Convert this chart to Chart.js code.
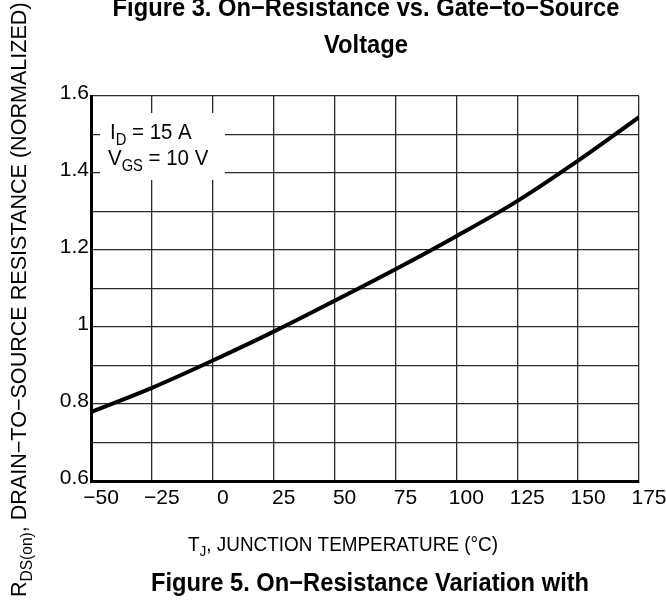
<!DOCTYPE html>
<html>
<head>
<meta charset="utf-8">
<script src="https://cdn.jsdelivr.net/npm/chart.js@4.4.1/dist/chart.umd.min.js"></script>
<style>
  html, body { margin: 0; padding: 0; background: #fff; }
  #wrap { width: 666px; height: 601px; position: relative; }
</style>
</head>
<body>
<div id="wrap"><canvas id="c" width="666" height="601"></canvas></div>
<script>
// ---- data ----
const temperatures = [-50, -25, 0, 25, 50, 75, 100, 125, 150, 175];
const resistanceNorm = [0.779, 0.842, 0.913, 0.988, 1.068, 1.150, 1.236, 1.327, 1.432, 1.545];
const xTickValues = [-50, -25, 0, 25, 50, 75, 100, 125, 150, 175];
const xTickLabels = ['\u221250', '\u221225', '0', '25', '50', '75', '100', '125', '150', '175'];
const yTickValues = [0.6, 0.8, 1.0, 1.2, 1.4, 1.6];
const yTickLabels = ['0.6', '0.8', '1', '1.2', '1.4', '1.6'];
const topTitle = ['Figure 3. On\u2212Resistance vs. Gate\u2212to\u2212Source', 'Voltage'];
const bottomTitle = 'Figure 5. On\u2212Resistance Variation with';
const xTitleParts = [['T', false], ['J', true], [', JUNCTION TEMPERATURE (\u00B0C)', false]];
const yTitleParts = [['R', false], ['DS(on)', true], [', DRAIN\u2212TO\u2212SOURCE RESISTANCE (NORMALIZED)', false]];
const noteLine1 = [['I', false], ['D', true], [' = 15 A', false]];
const noteLine2 = [['V', false], ['GS', true], [' = 10 V', false]];

const FONT = '"Liberation Sans", Arial, Helvetica, sans-serif';

function richWidth(ctx, parts, size) {
  let w = 0;
  for (const [t, sub] of parts) {
    ctx.font = (sub ? size * 0.72 : size) + 'px ' + FONT;
    w += ctx.measureText(t).width;
  }
  return w;
}
function drawRich(ctx, parts, x, y, size, align, sx) {
  sx = sx || 1;
  ctx.save();
  ctx.translate(x, y);
  ctx.scale(sx, 1);
  const total = richWidth(ctx, parts, size);
  let cx = align === 'center' ? -total / 2 : 0;
  ctx.textAlign = 'left';
  ctx.textBaseline = 'alphabetic';
  for (const [t, sub] of parts) {
    ctx.font = (sub ? size * 0.72 : size) + 'px ' + FONT;
    ctx.fillText(t, cx, sub ? size * 0.25 : 0);
    cx += ctx.measureText(t).width;
  }
  ctx.restore();
}
function drawBold(ctx, text, x, y, size, sx) {
  ctx.save();
  ctx.translate(x, y);
  ctx.scale(sx, 1);
  ctx.font = 'bold ' + size + 'px ' + FONT;
  ctx.textAlign = 'center';
  ctx.textBaseline = 'alphabetic';
  ctx.fillText(text, 0, 0);
  ctx.restore();
}

const textPlugin = {
  id: 'texts',
  beforeDatasetsDraw(chart) {
    const ctx = chart.ctx;
    ctx.save();
    ctx.fillStyle = '#fff';
    ctx.fillRect(100, 113, 125, 67);
    ctx.fillStyle = '#000';
    drawRich(ctx, noteLine1, 110, 139, 22, 'left', 0.93);
    drawRich(ctx, noteLine2, 108, 165, 22, 'left', 0.93);
    ctx.restore();
  },
  afterDraw(chart) {
    const ctx = chart.ctx;
    ctx.save();
    ctx.fillStyle = '#000';
    drawBold(ctx, topTitle[0], 366, 16, 25.5, 0.93);
    drawBold(ctx, topTitle[1], 366, 53, 25.5, 0.93);
    drawBold(ctx, bottomTitle, 370, 591, 25.5, 0.93);
    drawRich(ctx, xTitleParts, 343, 551, 21, 'center', 0.9);
    ctx.translate(26, 597);
    ctx.rotate(-Math.PI / 2);
    drawRich(ctx, yTitleParts, 0, 0, 22, 'left', 0.98);
    ctx.restore();
  }
};

const pts = temperatures.map((t, i) => ({ x: t, y: resistanceNorm[i] }));

new Chart(document.getElementById('c'), {
  type: 'line',
  data: {
    datasets: [{
      data: pts,
      borderColor: '#000',
      borderWidth: 4,
      pointRadius: 0,
      tension: 0.35,
      fill: false
    }]
  },
  options: {
    responsive: false,
    animation: false,
    events: [],
    layout: { padding: { top: 96, right: 27, left: 0, bottom: 0 } },
    plugins: { legend: { display: false }, tooltip: { enabled: false }, title: { display: false } },
    scales: {
      x: {
        type: 'linear',
        min: -50, max: 175,
        afterFit(s) { s.height = 120; },
        afterBuildTicks(s) { s.ticks = xTickValues.map(v => ({ value: v })); },
        ticks: {
          padding: 5,
          labelOffset: 10,
          maxRotation: 0,
          color: '#000',
          font: { family: FONT, size: 21 },
          callback(v) { const i = xTickValues.indexOf(v); return i >= 0 ? xTickLabels[i] : ''; }
        },
        grid: { color: '#2a2a2a', lineWidth: 1.3, drawTicks: false },
        border: { display: true, color: '#000', width: 3 }
      },
      y: {
        type: 'linear',
        min: 0.6, max: 1.6,
        afterFit(s) { s.width = 91; },
        afterBuildTicks(s) {
          const arr = [];
          for (let k = 0; k <= 10; k++) arr.push({ value: Math.round((0.6 + k * 0.1) * 10) / 10 });
          s.ticks = arr;
        },
        ticks: {
          padding: 2,
          labelOffset: -3,
          color: '#000',
          font: { family: FONT, size: 21 },
          autoSkip: false,
          callback(v) {
            for (let i = 0; i < yTickValues.length; i++) if (Math.abs(yTickValues[i] - v) < 1e-6) return yTickLabels[i];
            return '';
          }
        },
        grid: { color: '#2a2a2a', lineWidth: 1.3, drawTicks: false },
        border: { display: true, color: '#000', width: 3 }
      }
    }
  },
  plugins: [textPlugin]
});
</script>
</body>
</html>
